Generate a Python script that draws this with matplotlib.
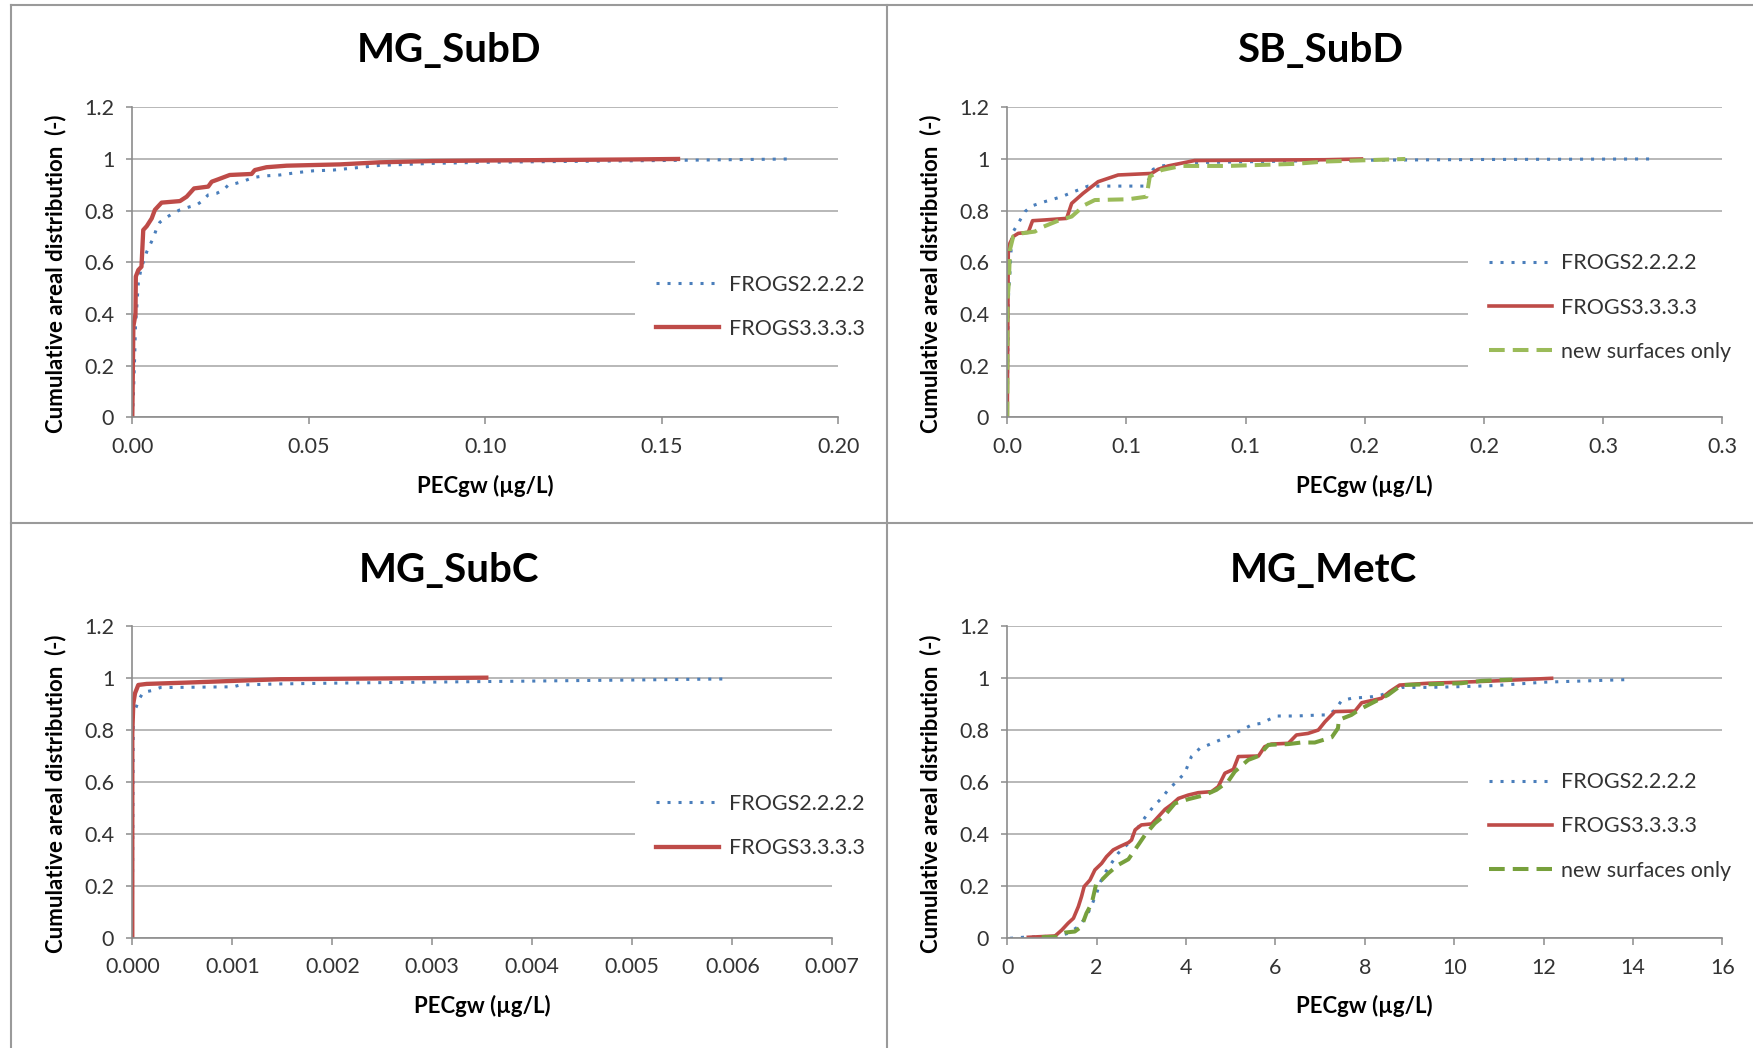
import matplotlib
matplotlib.use("Agg")
import matplotlib.pyplot as plt

plt.rcParams['font.family'] = ['Lato', 'DejaVu Sans']

# ---- data ----
y_ticks = [0, 0.2, 0.4, 0.6, 0.8, 1.0, 1.2]
y_ticklabels = ["0", "0.2", "0.4", "0.6", "0.8", "1", "1.2"]

# MG_SubD
subd_x_ticks = [0, 0.05, 0.10, 0.15, 0.20]
subd_x_labels = ["0.00", "0.05", "0.10", "0.15", "0.20"]
subd_f2_x = [0, 0.0003, 0.0007, 0.0009, 0.0014, 0.0017, 0.0024, 0.0033, 0.0041, 0.005, 0.0061, 0.0069,
             0.0078, 0.0097, 0.0116, 0.0135, 0.0163, 0.0182, 0.0196, 0.0215, 0.0239, 0.0258, 0.0272,
             0.0295, 0.0319, 0.0342, 0.0371, 0.0418, 0.0465, 0.0512, 0.0569, 0.07, 0.085, 0.10, 0.12,
             0.15, 0.1866]
subd_f2_y = [0, 0.08, 0.248, 0.351, 0.454, 0.519, 0.57, 0.609, 0.641, 0.667, 0.699, 0.732, 0.755, 0.774,
             0.79, 0.803, 0.815, 0.822, 0.835, 0.861, 0.867, 0.88, 0.899, 0.906, 0.916, 0.928, 0.934,
             0.938, 0.947, 0.954, 0.957, 0.975, 0.983, 0.987, 0.99, 0.994, 1.0]
subd_f3_x = [0, 0.0003, 0.0009, 0.001, 0.0017, 0.0026, 0.0031, 0.0041, 0.0055, 0.0064, 0.0083, 0.0135,
             0.0154, 0.0175, 0.0215, 0.0225, 0.0243, 0.0276, 0.0338, 0.0347, 0.038, 0.0437, 0.0588,
             0.07, 0.085, 0.10, 0.12, 0.14, 0.1546]
subd_f3_y = [0, 0.351, 0.40, 0.545, 0.570, 0.583, 0.725, 0.74, 0.77, 0.803, 0.831, 0.837, 0.854, 0.886,
             0.893, 0.912, 0.921, 0.938, 0.942, 0.957, 0.968, 0.974, 0.979, 0.987, 0.992, 0.994, 0.996,
             0.998, 1.0]

# SB_SubD
sb_x_ticks = [0, 0.05, 0.10, 0.15, 0.20, 0.25, 0.30]
sb_x_labels = ["0.0", "0.1", "0.1", "0.2", "0.2", "0.3", "0.3"]
sb_f2_x = [0, 0.0004, 0.0011, 0.0018, 0.0025, 0.0046, 0.0074, 0.0102, 0.0158, 0.0228, 0.027, 0.0339,
           0.0577, 0.0598, 0.0612, 0.0647, 0.0786, 0.1331, 0.20, 0.2725]
sb_f2_y = [0, 0.454, 0.557, 0.686, 0.719, 0.751, 0.796, 0.818, 0.835, 0.854, 0.87, 0.895, 0.895, 0.928,
           0.96, 0.973, 0.986, 0.994, 0.998, 1.0]
sb_f3_x = [0, 0.0004, 0.0011, 0.0025, 0.0046, 0.0088, 0.0106, 0.0158, 0.0249, 0.027, 0.0318, 0.0381,
           0.0465, 0.0605, 0.0633, 0.0675, 0.0786, 0.1331, 0.1486]
sb_f3_y = [0, 0.635, 0.674, 0.70, 0.712, 0.716, 0.761, 0.764, 0.77, 0.828, 0.867, 0.912, 0.938, 0.944,
           0.96, 0.973, 0.994, 0.997, 1.0]
sb_new_x = [0, 0.0001, 0.0007, 0.0011, 0.0025, 0.006, 0.0116, 0.0144, 0.0221, 0.027, 0.0325, 0.0367,
            0.0507, 0.0584, 0.0598, 0.0647, 0.073, 0.0926, 0.1205, 0.1331, 0.167]
sb_new_y = [0, 0.454, 0.53, 0.648, 0.70, 0.712, 0.719, 0.735, 0.764, 0.777, 0.822, 0.841, 0.844, 0.854,
            0.932, 0.957, 0.973, 0.973, 0.981, 0.99, 1.0]

# MG_SubC
subc_x_ticks = [0, 0.001, 0.002, 0.003, 0.004, 0.005, 0.006, 0.007]
subc_x_labels = ["0.000", "0.001", "0.002", "0.003", "0.004", "0.005", "0.006", "0.007"]
subc_f2_x = [0, 0.00001, 0.000037, 0.000067, 0.00011, 0.00019, 0.00028, 0.00054, 0.00101, 0.00108,
             0.00148, 0.002, 0.003, 0.004, 0.005, 0.00592]
subc_f2_y = [0, 0.863, 0.885, 0.917, 0.944, 0.95, 0.962, 0.963, 0.965, 0.972, 0.976, 0.979, 0.983,
             0.987, 0.991, 0.995]
subc_f3_x = [0, 0, 0.00001, 0.000027, 0.00006, 0.000143, 0.00054, 0.00104, 0.00148, 0.0025, 0.00354]
subc_f3_y = [0, 0.786, 0.90, 0.94, 0.972, 0.976, 0.981, 0.988, 0.994, 0.997, 1.0]

# MG_MetC
metc_x_ticks = [0, 2, 4, 6, 8, 10, 12, 14, 16]
metc_x_labels = ["0", "2", "4", "6", "8", "10", "12", "14", "16"]
metc_f2_x = [0.06, 0.36, 1.14, 1.36, 1.59, 1.77, 1.89, 2.0, 2.07, 2.18, 2.48, 2.71, 2.86, 3.04, 3.15,
             3.3, 3.45, 3.6, 3.79, 3.97, 4.12, 4.31, 4.5, 4.79, 5.02, 5.28, 5.47, 5.69, 5.84, 6.03,
             6.44, 7.03, 7.18, 7.33, 7.48, 7.7, 8.15, 8.37, 8.6, 8.82, 9.42, 10.16, 10.91, 12.0, 13.88]
metc_f2_y = [0.0, 0.004, 0.009, 0.019, 0.045, 0.083, 0.128, 0.173, 0.212, 0.25, 0.327, 0.365, 0.41,
             0.455, 0.481, 0.513, 0.538, 0.571, 0.603, 0.635, 0.699, 0.731, 0.744, 0.765, 0.782, 0.804,
             0.821, 0.827, 0.84, 0.855, 0.855, 0.859, 0.859, 0.878, 0.914, 0.923, 0.929, 0.936, 0.949,
             0.965, 0.965, 0.968, 0.972, 0.985, 0.995]
metc_f3_x = [0.47, 1.07, 1.22, 1.36, 1.48, 1.59, 1.66, 1.72, 1.85, 1.96, 2.11, 2.22, 2.37, 2.52, 2.71,
             2.78, 2.86, 3.0, 3.23, 3.38, 3.53, 3.68, 3.83, 4.05, 4.27, 4.57, 4.72, 4.87, 5.06, 5.17,
             5.62, 5.76, 5.91, 6.29, 6.47, 6.73, 6.96, 7.11, 7.33, 7.78, 7.93, 8.22, 8.37, 8.56, 8.78,
             9.42, 10.16, 10.91, 12.18]
metc_f3_y = [0.004, 0.009, 0.032, 0.058, 0.077, 0.122, 0.16, 0.199, 0.224, 0.263, 0.288, 0.314, 0.34,
             0.353, 0.368, 0.378, 0.417, 0.436, 0.44, 0.468, 0.496, 0.515, 0.538, 0.551, 0.56, 0.564,
             0.583, 0.635, 0.65, 0.699, 0.701, 0.737, 0.747, 0.75, 0.782, 0.788, 0.801, 0.833, 0.872,
             0.874, 0.906, 0.917, 0.923, 0.949, 0.974, 0.981, 0.985, 0.99, 1.0]
metc_new_x = [0.77, 1.1, 1.29, 1.51, 1.66, 1.77, 1.89, 2.0, 2.11, 2.26, 2.48, 2.71, 2.93, 3.08, 3.3,
              3.53, 3.75, 4.05, 4.42, 4.68, 4.94, 5.09, 5.39, 5.62, 5.84, 6.29, 6.58, 6.88, 7.26, 7.4,
              7.42, 7.7, 7.89, 8.3, 8.52, 8.82, 9.42, 10.16, 10.61, 11.3]
metc_new_y = [0.004, 0.006, 0.022, 0.026, 0.045, 0.096, 0.135, 0.218, 0.224, 0.25, 0.282, 0.304, 0.359,
              0.397, 0.442, 0.474, 0.519, 0.535, 0.551, 0.571, 0.603, 0.641, 0.686, 0.701, 0.744, 0.747,
              0.753, 0.753, 0.773, 0.808, 0.84, 0.859, 0.881, 0.917, 0.936, 0.974, 0.977, 0.981, 0.99,
              0.995]

blue = "#4a7ebb"
red = "#be4b48"
green_light = "#9bbb59"
green_dark = "#77a03c"
grid_col = "#b2b2b2"
axis_col = "#8c8c8c"
text_col = "#333333"

W, H = 1753, 1048
fig = plt.figure(figsize=(W / 100, H / 100), dpi=100)


def fx(px):
    return px / W


def fy(py):
    return 1 - py / H


def setup(ax, xticks, xlabels, xmax):
    ax.set_xlim(0, xmax)
    ax.set_ylim(0, 1.2)
    ax.set_yticks(y_ticks)
    ax.set_yticklabels(y_ticklabels, fontsize=15.5, color=text_col)
    ax.set_xticks(xticks)
    ax.set_xticklabels(xlabels, fontsize=15.5, color=text_col)
    ax.yaxis.grid(color=grid_col, lw=1.3)
    ax.set_axisbelow(True)
    for s in ['top', 'right']:
        ax.spines[s].set_visible(False)
    for s in ['left', 'bottom']:
        ax.spines[s].set_color(axis_col)
        ax.spines[s].set_linewidth(1.2)
    ax.tick_params(axis='x', direction='out', length=5, width=1.1, color=axis_col, pad=9)
    ax.tick_params(axis='y', direction='out', length=4, width=1.1, color=axis_col, pad=9)


def legend(ax, x0, y0):
    leg = ax.legend(loc='upper left', bbox_to_anchor=(x0, y0), fontsize=15.5, frameon=True,
                    facecolor='white', edgecolor='none', framealpha=1, borderpad=1.0,
                    borderaxespad=0, handlelength=2.9, handletextpad=0.45, labelspacing=1.12)
    for t in leg.get_texts():
        t.set_color(text_col)
    return leg


dot = (0, (1, 2.6))
dash = (0, (3.9, 2.0))

# ---- MG_SubD ----
ax1 = fig.add_axes([fx(132.3), fy(417.3), fx(706), 310 / H])
ax1.plot(subd_f2_x, subd_f2_y, color=blue, lw=2.2, linestyle=dot, label="FROGS2.2.2.2")
ax1.plot(subd_f3_x, subd_f3_y, color=red, lw=3.1, label="FROGS3.3.3.3")
setup(ax1, subd_x_ticks, subd_x_labels, 0.20)
legend(ax1, 0.712, 0.53)

# ---- SB_SubD ----
ax2 = fig.add_axes([fx(1007.3), fy(417.3), fx(715), 310 / H])
ax2.plot(sb_f2_x, sb_f2_y, color=blue, lw=2.2, linestyle=dot, label="FROGS2.2.2.2")
ax2.plot(sb_f3_x, sb_f3_y, color=red, lw=2.6, label="FROGS3.3.3.3")
ax2.plot(sb_new_x, sb_new_y, color=green_light, lw=2.9, linestyle=dash, label="new surfaces only")
setup(ax2, sb_x_ticks, sb_x_labels, 0.30)
legend(ax2, 0.644, 0.598)

# ---- MG_SubC ----
ax3 = fig.add_axes([fx(132.3), fy(938), fx(700), 312.4 / H])
ax3.plot(subc_f2_x, subc_f2_y, color=blue, lw=2.2, linestyle=dot, label="FROGS2.2.2.2")
ax3.plot(subc_f3_x, subc_f3_y, color=red, lw=3.1, label="FROGS3.3.3.3")
setup(ax3, subc_x_ticks, subc_x_labels, 0.007)
legend(ax3, 0.718, 0.53)

# ---- MG_MetC ----
ax4 = fig.add_axes([fx(1007.3), fy(938.3), fx(715), 312 / H])
ax4.plot(metc_f2_x, metc_f2_y, color=blue, lw=2.2, linestyle=dot, label="FROGS2.2.2.2")
ax4.plot(metc_f3_x, metc_f3_y, color=red, lw=2.6, label="FROGS3.3.3.3")
ax4.plot(metc_new_x, metc_new_y, color=green_dark, lw=2.9, linestyle=dash, label="new surfaces only")
setup(ax4, metc_x_ticks, metc_x_labels, 16)
legend(ax4, 0.644, 0.601)

# titles and axis labels (Excel puts them relative to the chart area)
titles = ["MG_SubD", "SB_SubD", "MG_SubC", "MG_MetC"]
title_pos = [(449, 51), (1320, 51), (449, 571), (1323, 571)]
for t, (px, py) in zip(titles, title_pos):
    fig.text(fx(px), fy(py), t, fontsize=29, fontweight='bold', ha='center', va='center')

ylab = "Cumulative areal distribution  (-)"
for px, py in [(56, 274), (931, 274), (56, 794), (931, 794)]:
    fig.text(fx(px), fy(py), ylab, fontsize=16, fontweight='bold', rotation=90,
             ha='center', va='center')

xlab = "PECgw (\u00b5g/L)"
for px, py in [(485, 486), (1364, 486), (482, 1006), (1364, 1006)]:
    fig.text(fx(px), fy(py), xlab, fontsize=16, fontweight='bold', ha='center', va='center')

# panel borders
border = dict(transform=fig.transFigure, color="#9a9a9a", lw=1.5)
fig.add_artist(plt.Line2D([fx(11), fx(11)], [0, fy(5)], **border))
fig.add_artist(plt.Line2D([fx(11), 1], [fy(5), fy(5)], **border))
fig.add_artist(plt.Line2D([fx(887), fx(887)], [0, fy(5)], **border))
fig.add_artist(plt.Line2D([fx(11), 1], [fy(523), fy(523)], **border))

plt.savefig("out.png", dpi=100)
